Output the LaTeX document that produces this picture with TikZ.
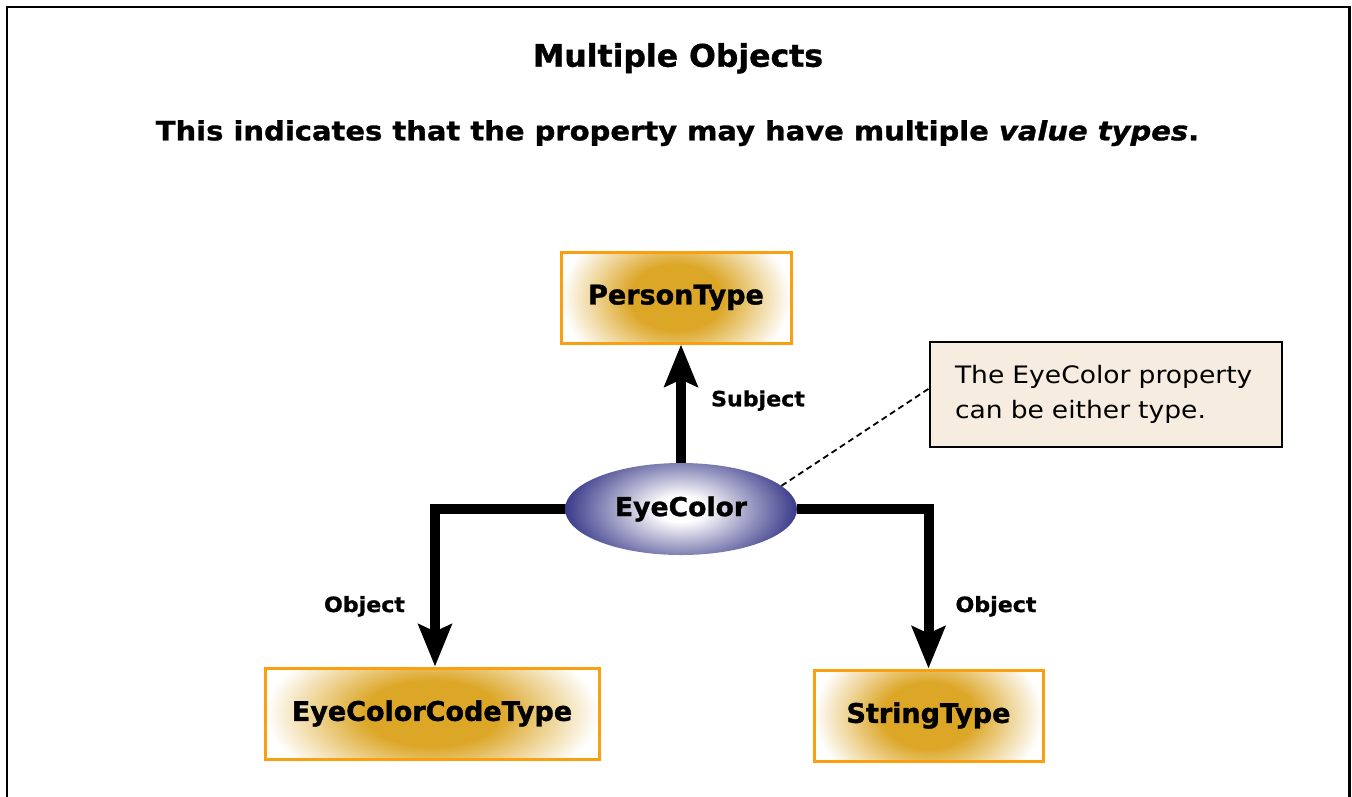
\documentclass[tikz,border=0pt]{standalone}
\usepackage{fontspec}
\setmainfont{DejaVu Sans}
\newfontfamily\ftitle{DejaVu Sans}[FakeStretch=1.016, BoldFeatures={FakeBold=1.2}]
\newfontfamily\fsub{DejaVu Sans}[FakeStretch=1.094, BoldFeatures={FakeBold=1.2}, BoldItalicFeatures={FakeBold=1.2}]
\newfontfamily\fbx{DejaVu Sans}[FakeStretch=1.0, BoldFeatures={FakeBold=1.2}]
\newfontfamily\feye{DejaVu Sans}[FakeStretch=1.025, BoldFeatures={FakeBold=1.2}]
\newfontfamily\flbl{DejaVu Sans}[FakeStretch=1.054, BoldFeatures={FakeBold=1.0}]
\newfontfamily\fcall{DejaVu Sans}[FakeStretch=1.107]
\usetikzlibrary{arrows.meta,shapes.geometric,calc}
\definecolor{boxgold}{RGB}{220,166,38}
\definecolor{boxorange}{RGB}{250,160,15}
\definecolor{eyeblue}{RGB}{58,58,138}
\definecolor{callfill}{RGB}{246,236,224}
\pgfdeclareradialshading{goldglow}{\pgfpoint{0bp}{0bp}}{color(0bp)=(boxgold); color(10bp)=(boxgold); color(25bp)=(white); color(50bp)=(white)}
\pgfdeclareradialshading{blueglow}{\pgfpoint{0bp}{0bp}}{color(0bp)=(white); color(5bp)=(white); color(25bp)=(eyeblue); color(50bp)=(eyeblue)}
\tikzset{
  gbox/.style 2 args={rectangle, draw=boxorange, line width=3pt, inner sep=0pt,
    minimum width=#1, minimum height=#2,
    font=\fbx\bfseries\fontsize{27}{30}\selectfont,
    path picture={\shade[shading=goldglow] (path picture bounding box.center) ellipse [x radius=#1/2, y radius=#2*0.9];}},
  eyenode/.style={ellipse, inner sep=0pt, minimum width=232pt, minimum height=92pt,
    font=\feye\bfseries\fontsize{26}{30}\selectfont,
    path picture={\shade[shading=blueglow] (path picture bounding box.center) ellipse [x radius=116pt, y radius=64pt];}},
  conn/.style={line width=10pt, -{Stealth[length=42pt,width=33pt,inset=7pt]}},
  lbl/.style={font=\flbl\bfseries\fontsize{21}{24}\selectfont, anchor=base},
}
\begin{document}
\begin{tikzpicture}[x=1pt,y=-1pt]
\useasboundingbox (0,0) rectangle (1352,796);
\draw[line width=2.5pt] (7,805) -- (7,7) -- (1349.5,7) -- (1349.5,805);
\node[anchor=base, font=\ftitle\bfseries\fontsize{31}{36}\selectfont] (title) at (678,66.7) {Multiple Objects};
\node[anchor=base, font=\fsub\bfseries\fontsize{26.5}{30}\selectfont] (subtitle) at (677.5,140.3) {This indicates that the property may have multiple \textit{value types}.};
\node[gbox={230pt}{91pt}] (person) at (676,297.5) {PersonType};
\node[eyenode] (eye) at (681,509) {EyeColor};
\node[gbox={334pt}{91pt}] (code) at (432,713.5) {EyeColorCodeType};
\node[gbox={229pt}{91pt}] (string) at (928.5,715.5) {StringType};
\node[rectangle, draw=black, line width=2pt, fill=callfill, minimum width=352pt, minimum height=105pt,
  text width=302pt, inner xsep=25pt, inner ysep=0pt, align=left,
  font=\fcall\fontsize{24}{34.4}\selectfont] (call) at (1106,394.5) {The EyeColor property\\can be either type.\par\vspace*{8pt}};
\draw[conn] (eye.north) -- (eye.north |- person.south);
\draw[conn] (eye.west) -| ([xshift=3pt]code.north);
\draw[conn] (eye.east) -| (string.north);
\draw[line width=1.8pt, dash pattern=on 6pt off 4pt] (eye.13) -- ([yshift=6pt]call.west);
\node[lbl] (subj) at (758,406.3) {Subject};
\node[lbl] (obj1) at (364.5,612) {Object};
\node[lbl] (obj2) at (996,612) {Object};
\end{tikzpicture}
\end{document}
